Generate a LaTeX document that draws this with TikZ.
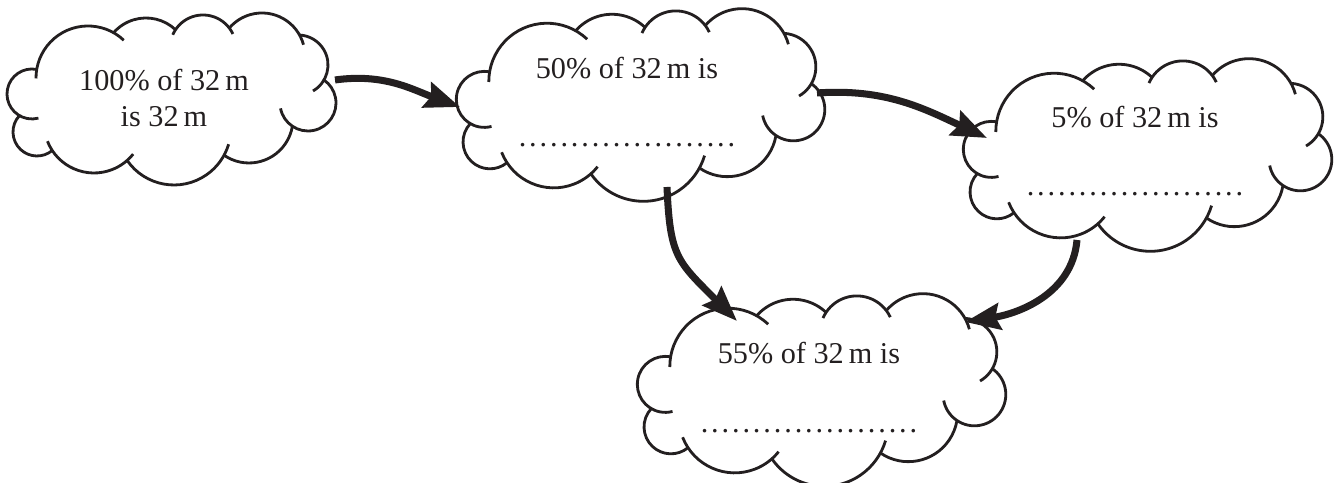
\documentclass[tikz,border=0pt]{standalone}
\usepackage{fontspec}
\setmainfont{Liberation Serif}
\usetikzlibrary{arrows.meta,calc,shapes.geometric}

\definecolor{ink}{RGB}{35,31,32}

% Puff template of a cloud: centre offsets, radii, and the extra length
% (in degrees) by which each arc runs on past its start / end junction.
% Puffs are listed anticlockwise, starting with the leftmost one.
\def\puffX{{-139,-134,-77,3,78,137,127,91,32,-25,-83}}
\def\puffY{{5,-33,-24,-29,-20,-4,34,43,51,38,21}}
\def\puffR{{25,24,50,57,44,28,30,43,33,43,52}}
\def\puffS{{0,0,12,0,0,45,30,14,12,0,14}}
\def\puffE{{45,0,10,12,0,0,0,0,10,0,10}}

% Outline of one cloud around the origin: every puff is the outer arc of its
% circle, running from the junction with the previous puff to the next one.
\newcommand\cloudoutline{%
  \foreach \i in {0,...,10}{%
    \pgfmathtruncatemacro\pfip{mod(\i+10,11)}%
    \pgfmathtruncatemacro\pfin{mod(\i+1,11)}%
    \pgfmathsetmacro\pfx{\puffX[\i]}%
    \pgfmathsetmacro\pfy{\puffY[\i]}%
    \pgfmathsetmacro\pfr{\puffR[\i]}%
    \pgfmathsetmacro\pfxp{\puffX[\pfip]}%
    \pgfmathsetmacro\pfyp{\puffY[\pfip]}%
    \pgfmathsetmacro\pfrp{\puffR[\pfip]}%
    \pgfmathsetmacro\pfxn{\puffX[\pfin]}%
    \pgfmathsetmacro\pfyn{\puffY[\pfin]}%
    \pgfmathsetmacro\pfrn{\puffR[\pfin]}%
    \pgfmathsetmacro\pfdp{veclen(\pfxp-\pfx,\pfyp-\pfy)}%
    \pgfmathsetmacro\pfdn{veclen(\pfxn-\pfx,\pfyn-\pfy)}%
    \pgfmathsetmacro\pfs{atan2(\pfyp-\pfy,\pfxp-\pfx)+acos((\pfdp*\pfdp+\pfr*\pfr-\pfrp*\pfrp)/(2*\pfdp*\pfr))}%
    \pgfmathsetmacro\pfe{atan2(\pfyn-\pfy,\pfxn-\pfx)-acos((\pfdn*\pfdn+\pfr*\pfr-\pfrn*\pfrn)/(2*\pfdn*\pfr))}%
    \pgfmathsetmacro\pfsweep{mod(\pfe-\pfs+1080,360)}%
    \pgfmathsetmacro\pfa{\pfs-\puffS[\i]}%
    \pgfmathsetmacro\pfb{\pfs+\pfsweep+\puffE[\i]}%
    \draw[cloudline] ([shift={(\pfa:\pfr)}]\pfx,\pfy)
      arc[start angle=\pfa, end angle=\pfb, radius=\pfr];
  }}

% dotted answer line: 21 evenly spaced full stops
\newcommand\dotcell{\hbox to 2.97pt{\hss.\hss}}
\newcommand\fillin{\dotcell\dotcell\dotcell\dotcell\dotcell\dotcell\dotcell
  \dotcell\dotcell\dotcell\dotcell\dotcell\dotcell\dotcell
  \dotcell\dotcell\dotcell\dotcell\dotcell\dotcell\dotcell}

\begin{document}
\begin{tikzpicture}[x=0.01cm, y=0.01cm,
  cloudline/.style={draw=ink, line width=0.8pt},
  cloudbody/.style={ellipse, draw=none, inner sep=0pt},
  txt/.style={text=ink, inner sep=0pt, anchor=base,
    font=\fontsize{8.6}{10.5}\selectfont},
  flow/.style={draw=ink, line width=2pt,
    -{Stealth[length=10pt, width=7.5pt, inset=1.3pt]}}]

\useasboundingbox (0,0) rectangle (1336,483);

% cloud bodies
\node[cloudbody, minimum width=3.30cm, minimum height=1.72cm] (whole) at (171,384) {};
\node[cloudbody, minimum width=3.70cm, minimum height=1.93cm] (half)  at (640,378) {};
\node[cloudbody, minimum width=3.70cm, minimum height=1.93cm] (five)  at (1147,328) {};
\node[cloudbody, minimum width=3.70cm, minimum height=1.93cm] (total) at (821,93) {};

% cloud outlines
\begin{scope}[shift={(171,384)}]\cloudoutline\end{scope}
\begin{scope}[shift={(640,378)}, scale=1.12]\cloudoutline\end{scope}
\begin{scope}[shift={(1147,328)}, scale=1.12]\cloudoutline\end{scope}
\begin{scope}[shift={(821,93)}, scale=1.12]\cloudoutline\end{scope}

% texts (the base anchor of a two-line node sits on its last line)
\node[txt, align=center] (t1) at (164,356) {100\% of 32\,m\\is 32\,m};
\node[txt] (t2) at (627,404) {50\% of 32\,m is};
\node[txt] (b2) at (627,336) {\fillin};
\node[txt] (t3) at (1135,355) {5\% of 32\,m is};
\node[txt] (b3) at (1135,287) {\fillin};
\node[txt] (t5) at (809,119) {55\% of 32\,m is};
\node[txt] (b5) at (809,50) {\fillin};

% arrows
\draw[flow] ($(whole)+(164,19)$) to[out=8, in=160] ($(half)+(-180,-2)$);
\draw[flow] ($(half)+(177,12)$) to[out=4, in=155] ($(five)+(-160,17)$);
\draw[flow] ($(half)+(27,-82)$) .. controls +(3,-70) and +(-60,60) .. ($(total)+(-84,69)$);
\draw[flow] ($(five)+(-70,-85)$) to[out=-95, in=9] ($(total)+(144,68)$);
\end{tikzpicture}
\end{document}
